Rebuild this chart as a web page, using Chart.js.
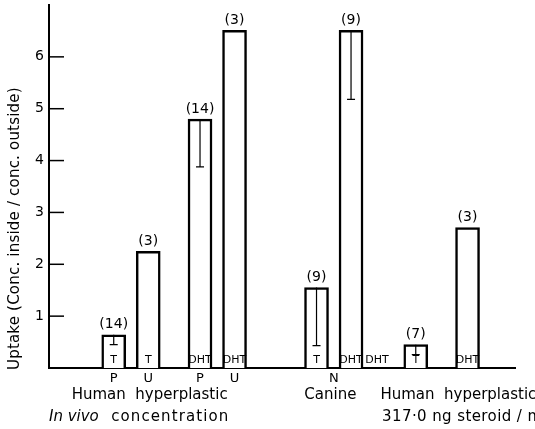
<!DOCTYPE html>
<html>
<head>
<meta charset="utf-8">
<script src="https://cdn.jsdelivr.net/npm/chart.js@4/dist/chart.umd.min.js"></script>
<style>
html,body{margin:0;padding:0;background:#fff;}
#wrap{width:535px;height:429px;}
</style>
</head>
<body>
<div id="wrap"><canvas id="uptakeChart" width="535" height="429"></canvas></div>
<script>

// bar slots along the x axis (half-slot units, gaps between groups left empty)
let barSlot = [7.5, 11.5, 17.5, 21.5, 31, 35, 38, 42.5, 48.5]
let uptake = [0.64, 2.25, 4.80, 6.51, 1.55, 6.51, 0, 0.45, 2.71]
let uptakeLow = [0.45, null, 3.88, null, 0.43, 5.18, null, 0.26, null]
let nCount = ["(14)", "(3)", "(14)", "(3)", "(9)", "(9)", "", "(7)", "(3)"]
let steroid = ["T", "T", "DHT", "DHT", "T", "DHT", "DHT", "T", "DHT"]

let tickSlot = [7.5, 11.5, 17.5, 21.5, 33]
let tickText = ["P", "U", "P", "U", "N"]

let yTicks = [1, 2, 3, 4, 5, 6]

let yTitle = "Uptake (Conc. inside / conc. outside)"

// group captions under the axis: slot, row, alignment
let groupLabels = [
{text:"Human  hyperplastic", at:20.7, row:1, align:"right"},
{text:"In vivo", at:0, row:2, align:"left", italic:true},
{text:"concentration", at:20.9, row:2, align:"right", spacing:1.1},
{text:"Canine", at:32.6, row:1, align:"center"},
{text:"Human  hyperplastic", at:38.4, row:1, align:"left"},
{text:"317·0 ng steroid / ml", at:38.6, row:2, align:"left", spacing:0.4}
]

const FONT = "'DejaVu Sans', sans-serif"


const annotations = {

id:"annotations",

afterDatasetsDraw(chart){

let ctx = chart.ctx
let x = chart.scales.x
let y = chart.scales.y
let base = y.getPixelForValue(0)
let bars = chart.getDatasetMeta(0).data

ctx.save()
ctx.fillStyle = "#000"
ctx.strokeStyle = "#000"

bars.forEach((bar, i) => {

// error bar, lower half only
if(uptakeLow[i] != null){
let top = y.getPixelForValue(uptake[i])
let bot = y.getPixelForValue(uptakeLow[i])
ctx.lineWidth = 1.2
ctx.beginPath()
ctx.moveTo(bar.x, top)
ctx.lineTo(bar.x, bot)
ctx.moveTo(bar.x - 4, bot)
ctx.lineTo(bar.x + 4, bot)
ctx.stroke()
}

ctx.textAlign = "center"
ctx.font = "14px " + FONT
ctx.textBaseline = "bottom"
ctx.fillText(nCount[i], bar.x, bar.y - 3)

ctx.font = "11px " + FONT
ctx.textBaseline = "middle"
ctx.fillText(steroid[i], bar.x, base - 8)

})

// short y ticks pointing into the plot
ctx.lineWidth = 1.5
yTicks.forEach(v => {
let py = y.getPixelForValue(v)
ctx.beginPath()
ctx.moveTo(x.left, py)
ctx.lineTo(x.left + 15, py)
ctx.stroke()
})

// y title
ctx.save()
ctx.translate(15, base + 2)
ctx.rotate(-Math.PI/2)
ctx.font = "15px " + FONT
ctx.letterSpacing = "0.2px"
ctx.textAlign = "left"
ctx.textBaseline = "middle"
ctx.fillText(yTitle, 0, 0)
ctx.restore()

// captions below the axis
groupLabels.forEach(g => {
ctx.font = (g.italic ? "italic " : "") + "15px " + FONT
ctx.letterSpacing = (g.spacing || 0) + "px"
ctx.textAlign = g.align
ctx.textBaseline = "middle"
ctx.fillText(g.text, x.getPixelForValue(g.at), base + (g.row == 1 ? 27 : 49))
})

ctx.restore()

}

}


new Chart(document.getElementById("uptakeChart"),{

type:"bar",

data:{
datasets:[{
data:barSlot.map((s, i) => ({x:s, y:uptake[i]})),
backgroundColor:"#fff",
borderColor:"#000",
borderWidth:2.5,
borderSkipped:"bottom",
barThickness:24
}]
},

options:{
responsive:false,
animation:false,
devicePixelRatio:1,
layout:{padding:{top:5, right:20, left:0, bottom:0}},
plugins:{legend:{display:false}, tooltip:{enabled:false}},
scales:{
x:{
type:"linear",
min:0,
max:54,
offset:false,
grid:{display:false, offset:false, drawTicks:false, tickLength:0},
border:{display:true, color:"#000", width:2},
afterBuildTicks:scale => { scale.ticks = tickSlot.map(v => ({value:v})) },
afterFit:scale => { scale.height = 61; scale.paddingLeft = 0; scale.paddingRight = 0 },
ticks:{
autoSkip:false,
maxRotation:0,
padding:3,
color:"#000",
font:{family:FONT, size:13},
callback:(v, i) => tickText[i]
}
},
y:{
min:0,
max:7,
grid:{display:false, drawTicks:false, tickLength:0},
border:{display:true, color:"#000", width:2},
afterBuildTicks:scale => { scale.ticks = yTicks.map(v => ({value:v})) },
afterFit:scale => { scale.width = 49; scale.paddingTop = 0; scale.paddingBottom = 0 },
ticks:{
padding:5,
color:"#000",
font:{family:FONT, size:14}
}
}
}
},

plugins:[annotations]

})

</script>
</body>
</html>
